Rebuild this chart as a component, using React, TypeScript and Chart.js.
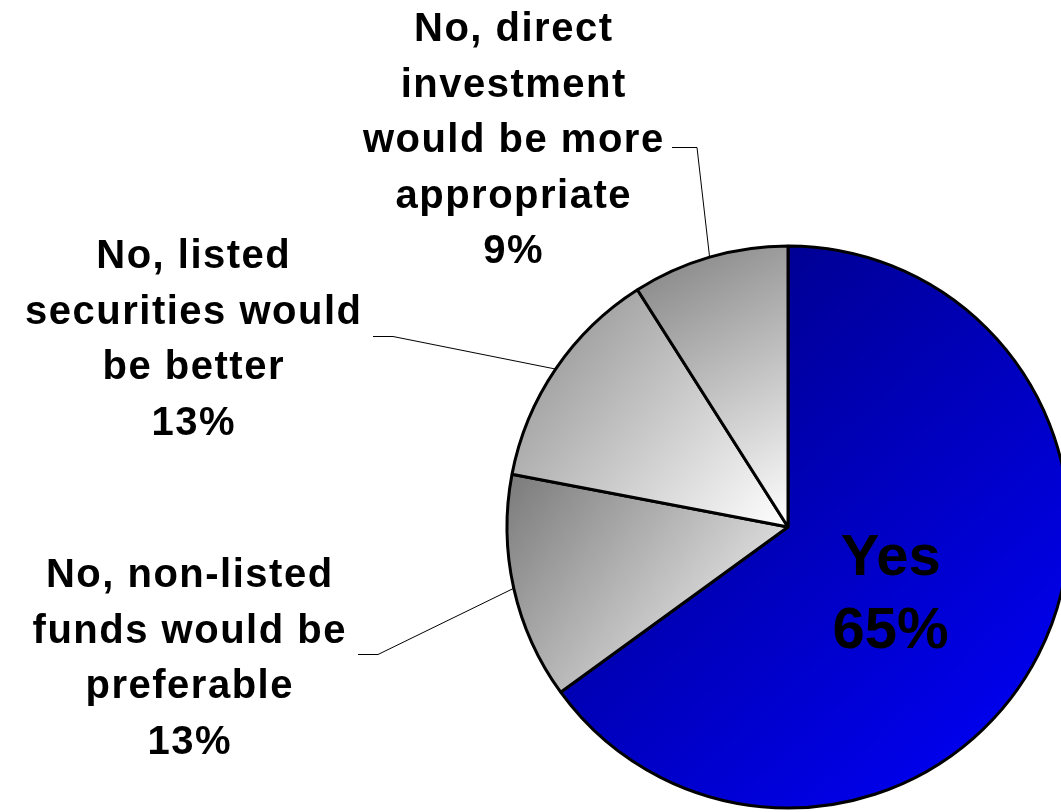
import React, { useEffect, useRef } from "react";
import { Chart, registerables } from "chart.js";

Chart.register(...registerables);

// ---- data ----
const categories = [
  "Yes",
  "No, non-listed funds would be preferable",
  "No, listed securities would be better",
  "No, direct investment would be more appropriate",
];
const values = [65, 13, 13, 9];
const labelLines = [
  ["Yes"],
  ["No, non-listed", "funds would be", "preferable"],
  ["No, listed", "securities would", "be better"],
  ["No, direct", "investment", "would be more", "appropriate"],
];
const gradientStops = [
  ["#00007a", "#0000ff"],
  ["#7a7a7a", "#ffffff"],
  ["#8a8a8a", "#ffffff"],
  ["#808080", "#ffffff"],
];

// ---- label layout (positions only) ----
const outsideLabels: Record<number, { cx: number; y0: number; start: [number, number]; elbow: [number, number] }> = {
  1: { cx: 189, y0: 587, start: [358, 654], elbow: [378, 654] },
  2: { cx: 193, y0: 268, start: [373, 336], elbow: [393, 336] },
  3: { cx: 513, y0: 41, start: [672, 147], elbow: [697, 147] },
};
const LINE_H = 55.5;
const FONT = '"Liberation Sans", Arial, sans-serif';
const BORDER = 3;

function sliceGeometry(chart: any, i: number) {
  const a = chart.chartArea;
  const x = (a.left + a.right) / 2;
  const y = (a.top + a.bottom) / 2;
  const r = (Math.min(a.right - a.left, a.bottom - a.top) - BORDER) / 2;
  const total = values.reduce((s, v) => s + v, 0);
  let cum = 0;
  for (let k = 0; k < i; k++) cum += values[k];
  const startAngle = -Math.PI / 2 + (cum / total) * Math.PI * 2;
  const endAngle = startAngle + (values[i] / total) * Math.PI * 2;
  return { x, y, r, startAngle, endAngle };
}

function sliceGradient(context: any) {
  const chart = context.chart;
  const i = context.dataIndex;
  if (!chart.chartArea || i === undefined) return gradientStops[i ?? 0]?.[0] ?? "#888";
  const { x, y, r, startAngle, endAngle } = sliceGeometry(chart, i);
  const xs = [x], ys = [y];
  const n = 80;
  for (let k = 0; k <= n; k++) {
    const ang = startAngle + ((endAngle - startAngle) * k) / n;
    xs.push(x + Math.cos(ang) * r);
    ys.push(y + Math.sin(ang) * r);
  }
  const g = chart.ctx.createLinearGradient(Math.min(...xs), Math.min(...ys), Math.max(...xs), Math.max(...ys));
  g.addColorStop(0, gradientStops[i][0]);
  g.addColorStop(1, gradientStops[i][1]);
  return g;
}

const labelPlugin = {
  id: "sliceLabels",
  afterDatasetsDraw(chart: any) {
    const ctx = chart.ctx;
    const meta = chart.getDatasetMeta(0);
    ctx.save();
    meta.data.forEach((el: any, i: number) => {
      const mid = (el.startAngle + el.endAngle) / 2;
      const pct = `${values[i]}%`;
      if (i === 0) {
        const r = el.outerRadius * 0.41;
        const cx = el.x + Math.cos(mid) * r;
        const cy = el.y + Math.sin(mid) * r;
        ctx.fillStyle = "#000";
        ctx.font = `bold 58px ${FONT}`;
        ctx.textAlign = "center";
        ctx.textBaseline = "alphabetic";
        (ctx as any).letterSpacing = "0px";
        ctx.fillText(labelLines[0][0], cx, cy - 4);
        ctx.fillText(pct, cx, cy + 69);
        return;
      }
      const L = outsideLabels[i];
      const ex = el.x + Math.cos(mid) * el.outerRadius;
      const ey = el.y + Math.sin(mid) * el.outerRadius;
      ctx.strokeStyle = "#000";
      ctx.lineWidth = 1;
      ctx.beginPath();
      ctx.moveTo(L.start[0], L.start[1] + 0.5);
      ctx.lineTo(L.elbow[0], L.elbow[1] + 0.5);
      ctx.lineTo(ex, ey);
      ctx.stroke();
      ctx.fillStyle = "#000";
      ctx.font = `bold 40px ${FONT}`;
      (ctx as any).letterSpacing = "1.5px";
      ctx.textAlign = "center";
      ctx.textBaseline = "alphabetic";
      const lines = [...labelLines[i], pct];
      lines.forEach((t, k) => ctx.fillText(t, L.cx + 0.75, L.y0 + k * LINE_H));
    });
    ctx.restore();
  },
};

export default function App() {
  const ref = useRef<HTMLCanvasElement | null>(null);
  useEffect(() => {
    document.body.style.margin = "0";
    const canvas = ref.current!;
    const chart = new Chart(canvas, {
      type: "pie",
      data: {
        labels: categories,
        datasets: [
          {
            data: values,
            backgroundColor: sliceGradient,
            borderColor: "#000",
            borderWidth: BORDER,
          },
        ],
      },
      options: {
        responsive: false,
        animation: false,
        devicePixelRatio: 1,
        layout: { padding: { left: 505.5, top: 244.5, right: 9.5, bottom: 2.5 } },
        plugins: {
          legend: { display: false },
          tooltip: { enabled: false },
        },
        events: [],
      },
      plugins: [labelPlugin],
    });
    return () => chart.destroy();
  }, []);
  return (
    <div style={{ position: "fixed", left: 0, top: 0, width: 1061, height: 812, overflow: "hidden", background: "#fff" }}>
      <canvas ref={ref} width={1080} height={812} style={{ width: 1080, height: 812, display: "block" }} />
    </div>
  );
}
